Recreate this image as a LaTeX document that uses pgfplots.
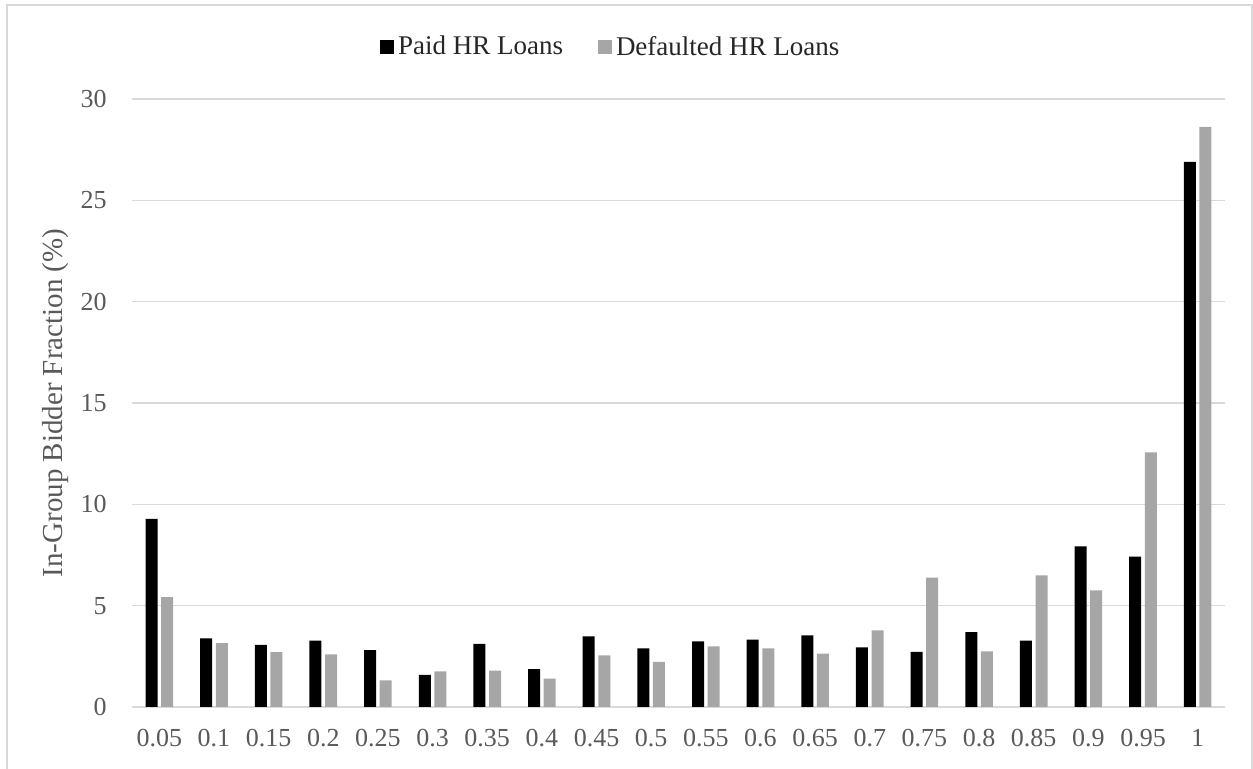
\documentclass[border=0pt]{standalone}
\usepackage{pgfplots}
\pgfplotsset{compat=1.18}
\usepackage{fontspec}
\setmainfont{Liberation Serif}
\newfontfamily\legfont{Liberation Serif}
\definecolor{txtgray}{HTML}{595959}
\definecolor{gridgray}{HTML}{D9D9D9}
\definecolor{bargray}{HTML}{A6A6A6}
\begin{document}
\begin{tikzpicture}
\useasboundingbox (-66pt,-31pt) rectangle (560.5pt,353.5pt);
\draw[gridgray, line width=0.8pt] (-62.5pt,-40pt) -- (-62.5pt,351pt) -- (560pt,351pt) -- (560pt,-40pt);
\begin{axis}[
  at={(0,0)}, anchor=south west,
  scale only axis,
  width=546.5pt, height=304pt,
  ybar, bar width=6pt,
  xmin=-0.5, xmax=19.5,
  ymin=0, ymax=30,
  ytick={0,5,...,30},
  xtick={0,...,19},
  xticklabels={0.05,0.1,0.15,0.2,0.25,0.3,0.35,0.4,0.45,0.5,0.55,0.6,0.65,0.7,0.75,0.8,0.85,0.9,0.95,1},
  axis line style={draw=none},
  major tick length=0pt,
  ymajorgrids, grid style={gridgray, line width=0.8pt},
  tick label style={font=\rmfamily\fontsize{13}{15}\selectfont, text=txtgray, inner sep=0pt},
  /pgf/number format/assume math mode=true,
  yticklabel shift=12.5pt,
  xticklabel shift=11pt,
  every axis y label/.style={at={(axis description cs:-0.0704,0.5)}, rotate=90, anchor=center},
  ylabel={In-Group Bidder Fraction (\%)},
  label style={font=\rmfamily\fontsize{14.5}{16}\selectfont, text=txtgray},
  legend columns=2,
  legend style={at={(0.439,1.0855)}, anchor=center, draw=none, fill=none,
    font=\legfont\fontsize{13.5}{15}\selectfont, text=black!85,
    /tikz/every even column/.append style={column sep=15pt},
    /tikz/every node/.append style={inner sep=2.2pt}},
  legend image code/.code={\fill[#1] (0pt,-3.5pt) rectangle (7pt,3.5pt);},
]
\addplot[fill=black, draw=none, bar shift=-3.9pt] coordinates {
(0,9.28) (1,3.38) (2,3.07) (3,3.27) (4,2.81) (5,1.59) (6,3.12) (7,1.87) (8,3.48) (9,2.89)
(10,3.24) (11,3.32) (12,3.53) (13,2.94) (14,2.72) (15,3.70) (16,3.28) (17,7.93) (18,7.42) (19,26.90)};
\addplot[fill=bargray, draw=none, bar shift=3.9pt] coordinates {
(0,5.42) (1,3.15) (2,2.71) (3,2.60) (4,1.31) (5,1.76) (6,1.79) (7,1.40) (8,2.55) (9,2.23)
(10,2.99) (11,2.89) (12,2.63) (13,3.78) (14,6.38) (15,2.74) (16,6.50) (17,5.75) (18,12.56) (19,28.63)};
\legend{{\legfont Paid HR Loans}, {\legfont Defaulted HR Loans}}
\end{axis}
\end{tikzpicture}
\end{document}
